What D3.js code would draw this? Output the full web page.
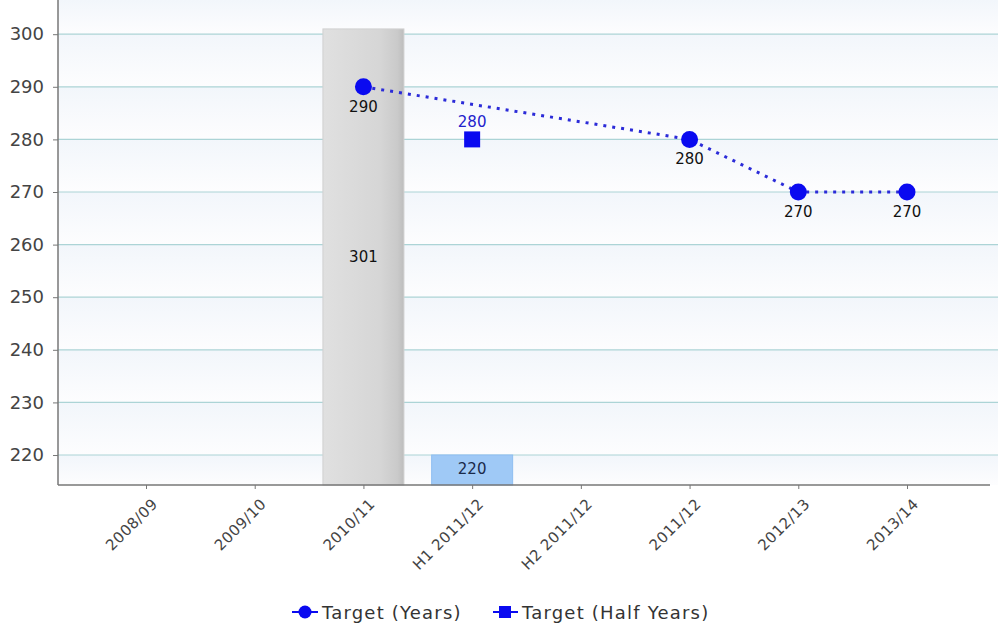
<!DOCTYPE html>
<html><head><meta charset="utf-8">
<script src="https://cdn.jsdelivr.net/npm/d3@7"></script>
<style>body{margin:0;background:#fff}svg{display:block}</style>
</head><body>
<svg id="c" width="998" height="630"></svg>
<script>
const categories = ["2008/09","2009/10","2010/11","H1 2011/12","H2 2011/12","2011/12","2012/13","2013/14"];
const barCats = ["2010/11","H1 2011/12"];
const barValues = [301, 220];
const yearCats = ["2010/11","2011/12","2012/13","2013/14"];
const yearValues = [290, 280, 270, 270];
const halfCats = ["H1 2011/12"];
const halfValues = [280];
const yTicks = [220,230,240,250,260,270,280,290,300];

(function(){
const svg = d3.select("#c");
const font = "Tahoma, 'DejaVu Sans', sans-serif";
const pLeft = 58, pRight = 998, pTop = 0, pBottom = 485;
const x = d3.scalePoint().domain(categories).range([146, 907]);
const y = d3.scaleLinear().domain([214.3, 306.5]).range([pBottom, pTop]);

const defs = svg.append("defs");
const bg = defs.append("linearGradient").attr("id","bandg").attr("x1",0).attr("y1",0).attr("x2",0).attr("y2",1);
bg.append("stop").attr("offset","0%").attr("stop-color","#f2f6fb");
bg.append("stop").attr("offset","100%").attr("stop-color","#fdfdfe");
const gg = defs.append("linearGradient").attr("id","grayg").attr("x1",0).attr("y1",0).attr("x2",1).attr("y2",0);
gg.append("stop").attr("offset","0%").attr("stop-color","#e0e0e0");
gg.append("stop").attr("offset","70%").attr("stop-color","#d6d6d6");
gg.append("stop").attr("offset","92%").attr("stop-color","#cacaca");
gg.append("stop").attr("offset","100%").attr("stop-color","#bdbdbd");

const bands = [306.5].concat(yTicks.slice().reverse()).concat([214.3]);
for (let i = 0; i < bands.length - 1; i++) {
  svg.append("rect").attr("x", pLeft).attr("y", y(bands[i])).attr("width", pRight - pLeft)
    .attr("height", y(bands[i+1]) - y(bands[i])).attr("fill", "url(#bandg)");
}
svg.append("g").selectAll("line").data(yTicks).join("line")
  .attr("x1", pLeft).attr("x2", pRight).attr("y1", d => y(d)).attr("y2", d => y(d))
  .attr("stroke", "#acd4d6").attr("stroke-width", 1.2);

const bw = 81;
svg.append("g").selectAll("rect").data(barCats).join("rect")
  .attr("x", d => x(d) - bw/2).attr("width", bw)
  .attr("y", (d,i) => y(barValues[i])).attr("height", (d,i) => pBottom - y(barValues[i]))
  .attr("fill", (d,i) => i === 0 ? "url(#grayg)" : "#9fc9f6")
  .attr("stroke", (d,i) => i === 0 ? "#d0d0d0" : "#8fbef2").attr("stroke-width", 1);
svg.append("g").selectAll("text").data(barCats).join("text")
  .attr("x", d => x(d)).attr("y", (d,i) => i === 0 ? 262 : y(barValues[i]) + 19)
  .attr("text-anchor","middle").attr("font-family", font).attr("font-size", 15)
  .attr("fill", (d,i) => i === 0 ? "#111" : "#1a2a4a")
  .text((d,i) => barValues[i]);

const ya = svg.append("g").attr("transform", `translate(${pLeft},0)`)
  .call(d3.axisLeft(y).tickValues(yTicks).tickSize(5).tickSizeOuter(0));
ya.select(".domain").attr("stroke","#777").attr("stroke-width",1.5).attr("d", `M0,${pBottom}V0`);
ya.selectAll(".tick line").attr("stroke","#777");
ya.selectAll(".tick text").attr("font-family", font).attr("font-size", 18).attr("fill","#444").attr("x",-14);

const xa = svg.append("g").attr("transform", `translate(0,${pBottom})`)
  .call(d3.axisBottom(x).tickSize(4).tickSizeOuter(0));
xa.select(".domain").attr("stroke","#777").attr("stroke-width",1.5).attr("d", `M${pLeft},0H${pRight - 8}`);
xa.selectAll(".tick line").attr("stroke","#777");
xa.selectAll(".tick text").attr("font-family", font).attr("font-size", 15).attr("fill","#444")
  .attr("letter-spacing", 0.5)
  .attr("text-anchor","end").attr("dy",0).attr("y",0)
  .attr("transform","translate(12,20) rotate(-45)");

const line = d3.line().x(d => x(d[0])).y(d => y(d[1]));
const yearPts = yearCats.map((c,i) => [c, yearValues[i]]);
svg.append("path").datum(yearPts).attr("d", line).attr("fill","none")
  .attr("stroke","#2b2bd8").attr("stroke-width",3).attr("stroke-dasharray","3,6");
svg.append("g").selectAll("circle").data(yearPts).join("circle")
  .attr("cx", d => x(d[0])).attr("cy", d => y(d[1])).attr("r", 8.5).attr("fill","#0a0af0");
svg.append("g").selectAll("text").data(yearPts).join("text")
  .attr("x", d => x(d[0])).attr("y", d => y(d[1]) + 25).attr("text-anchor","middle")
  .attr("font-family", font).attr("font-size", 15).attr("fill","#111").text(d => d[1]);

const halfPts = halfCats.map((c,i) => [c, halfValues[i]]);
svg.append("g").selectAll("rect").data(halfPts).join("rect")
  .attr("x", d => x(d[0]) - 8).attr("y", d => y(d[1]) - 8).attr("width",16).attr("height",16).attr("fill","#0a0af0");
svg.append("g").selectAll("text").data(halfPts).join("text")
  .attr("x", d => x(d[0])).attr("y", d => y(d[1]) - 12).attr("text-anchor","middle")
  .attr("font-family", font).attr("font-size", 15).attr("fill","#2222cc").text(d => d[1]);

const lg = svg.append("g").attr("font-family", font).attr("font-size", 18).attr("fill","#333").attr("letter-spacing", 1.2);
lg.append("line").attr("x1",292).attr("x2",318).attr("y1",612).attr("y2",612).attr("stroke","#0a0af0").attr("stroke-width",2);
lg.append("circle").attr("cx",305).attr("cy",612).attr("r",6.5).attr("fill","#0a0af0");
lg.append("text").attr("x",322).attr("y",619).text("Target (Years)");
lg.append("line").attr("x1",493).attr("x2",518).attr("y1",612).attr("y2",612).attr("stroke","#0a0af0").attr("stroke-width",2);
lg.append("rect").attr("x",499).attr("y",606).attr("width",12).attr("height",12).attr("fill","#0a0af0");
lg.append("text").attr("x",522).attr("y",619).text("Target (Half Years)");
})();
</script>
</body></html>
